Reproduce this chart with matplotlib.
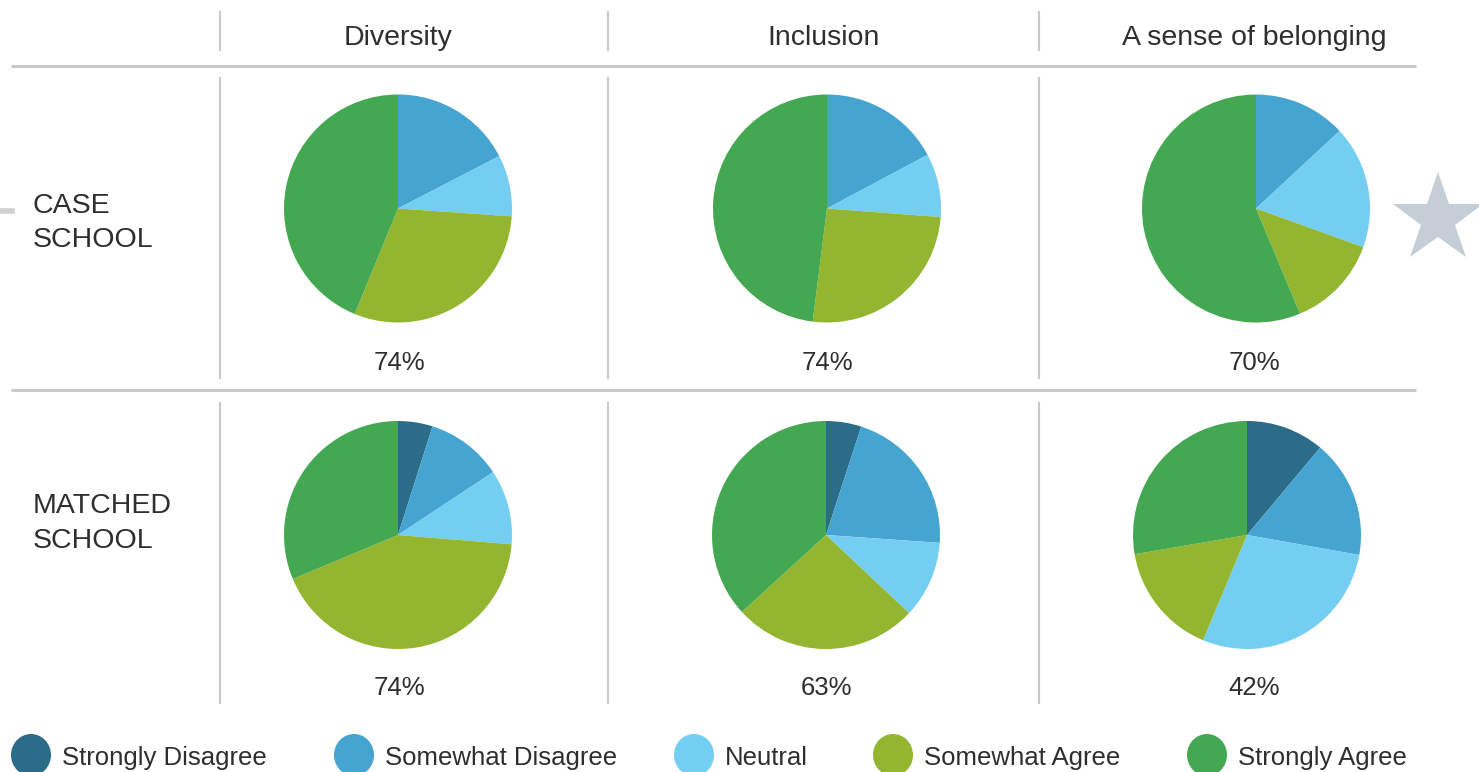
import matplotlib
matplotlib.use("Agg")
import matplotlib.pyplot as plt
from matplotlib.patches import Ellipse

plt.rcParams['font.family'] = ['Liberation Sans', 'DejaVu Sans']

# data (percent of responses)
categories = ['Strongly Disagree', 'Somewhat Disagree', 'Neutral',
              'Somewhat Agree', 'Strongly Agree']
colors = ['#2b6c88', '#45a5d0', '#74cef2', '#93b52f', '#43a851']

columns = ['Diversity', 'Inclusion', 'A sense of belonging']
rows = ['CASE\nSCHOOL', 'MATCHED\nSCHOOL']

case_diversity = [0, 17.4, 8.7, 30.1, 43.8]
case_inclusion = [0, 17.2, 9.0, 25.8, 48.0]
case_belonging = [0, 13.1, 17.4, 13.2, 56.3]
matched_diversity = [4.9, 10.8, 10.6, 42.4, 31.3]
matched_inclusion = [5.0, 21.1, 10.9, 26.2, 36.8]
matched_belonging = [11.1, 16.7, 28.5, 16.0, 27.7]

case_agree = ['74%', '74%', '70%']
matched_agree = ['74%', '63%', '42%']

W, H = 1479, 772
fig = plt.figure(figsize=(W / 100, H / 100), dpi=100)

# background axes in pixel units
bg = fig.add_axes([0, 0, 1, 1])
bg.set_xlim(0, W)
bg.set_ylim(H, 0)
bg.axis('off')

txt = '#2e2e2e'
grid = '#c9c9c9'

# table lines
for y in (66, 390):
    bg.plot([11, 1416], [y, y], color=grid, lw=2.2, solid_capstyle='butt')
for x in (220, 608, 1039):
    bg.plot([x, x], [12, 50], color=grid, lw=1.5)
    bg.plot([x, x], [78, 378], color=grid, lw=1.5)
    bg.plot([x, x], [403, 703], color=grid, lw=1.5)

# headers
col_x = [398, 824, 1254]
for cx, name in zip(col_x, columns):
    bg.text(cx, 45, name, ha='center', va='baseline', fontsize=20.5, color=txt)

# row labels
row_y = [(213, 247), (513, 548)]
for (y1, y2), name in zip(row_y, rows):
    top, bottom = name.split('\n')
    bg.text(33, y1, top, ha='left', va='baseline', fontsize=20.5, color=txt)
    bg.text(33, y2, bottom, ha='left', va='baseline', fontsize=20.5, color=txt)

# pies
pie_data = [[case_diversity, case_inclusion, case_belonging],
            [matched_diversity, matched_inclusion, matched_belonging]]
centers = [[(398, 208.5), (827, 208.5), (1256, 208.5)],
           [(398, 535), (826, 535), (1247, 535)]]
radius = 114
box = 240
for r in range(2):
    for c in range(3):
        cx, cy = centers[r][c]
        ax = fig.add_axes([(cx - box / 2) / W, 1 - (cy + box / 2) / H,
                           box / W, box / H])
        ax.pie(pie_data[r][c], colors=colors, startangle=90,
               counterclock=False, wedgeprops=dict(linewidth=0))
        lim = box / (2 * radius)
        ax.set_xlim(-lim, lim)
        ax.set_ylim(-lim, lim)
        ax.set_aspect('auto')
        ax.axis('off')

# percent labels
pct_x = [399, 827, 1254]
for cx, lab in zip(pct_x, case_agree):
    bg.text(cx, 370, lab, ha='center', va='baseline', fontsize=18.5, color=txt)
for cx, lab in zip(pct_x, matched_agree):
    bg.text(cx, 695, lab, ha='center', va='baseline', fontsize=18.5, color=txt)

# legend
leg_x = [31, 354, 694, 893, 1207]
for lx, name, col in zip(leg_x, categories, colors):
    bg.add_patch(Ellipse((lx, 755), 40, 42, color=col, lw=0))
    bg.text(lx + 31, 765, name, ha='left', va='baseline', fontsize=18.5,
            color=txt)

# star at right edge and small mark at left edge
bg.plot([1438], [219], marker='*', markersize=68, color='#c5cdd6',
        markeredgewidth=0)
bg.plot([0, 12], [211, 211], color='#d0d0d0', lw=4)

fig.savefig('out.png', dpi=100)
